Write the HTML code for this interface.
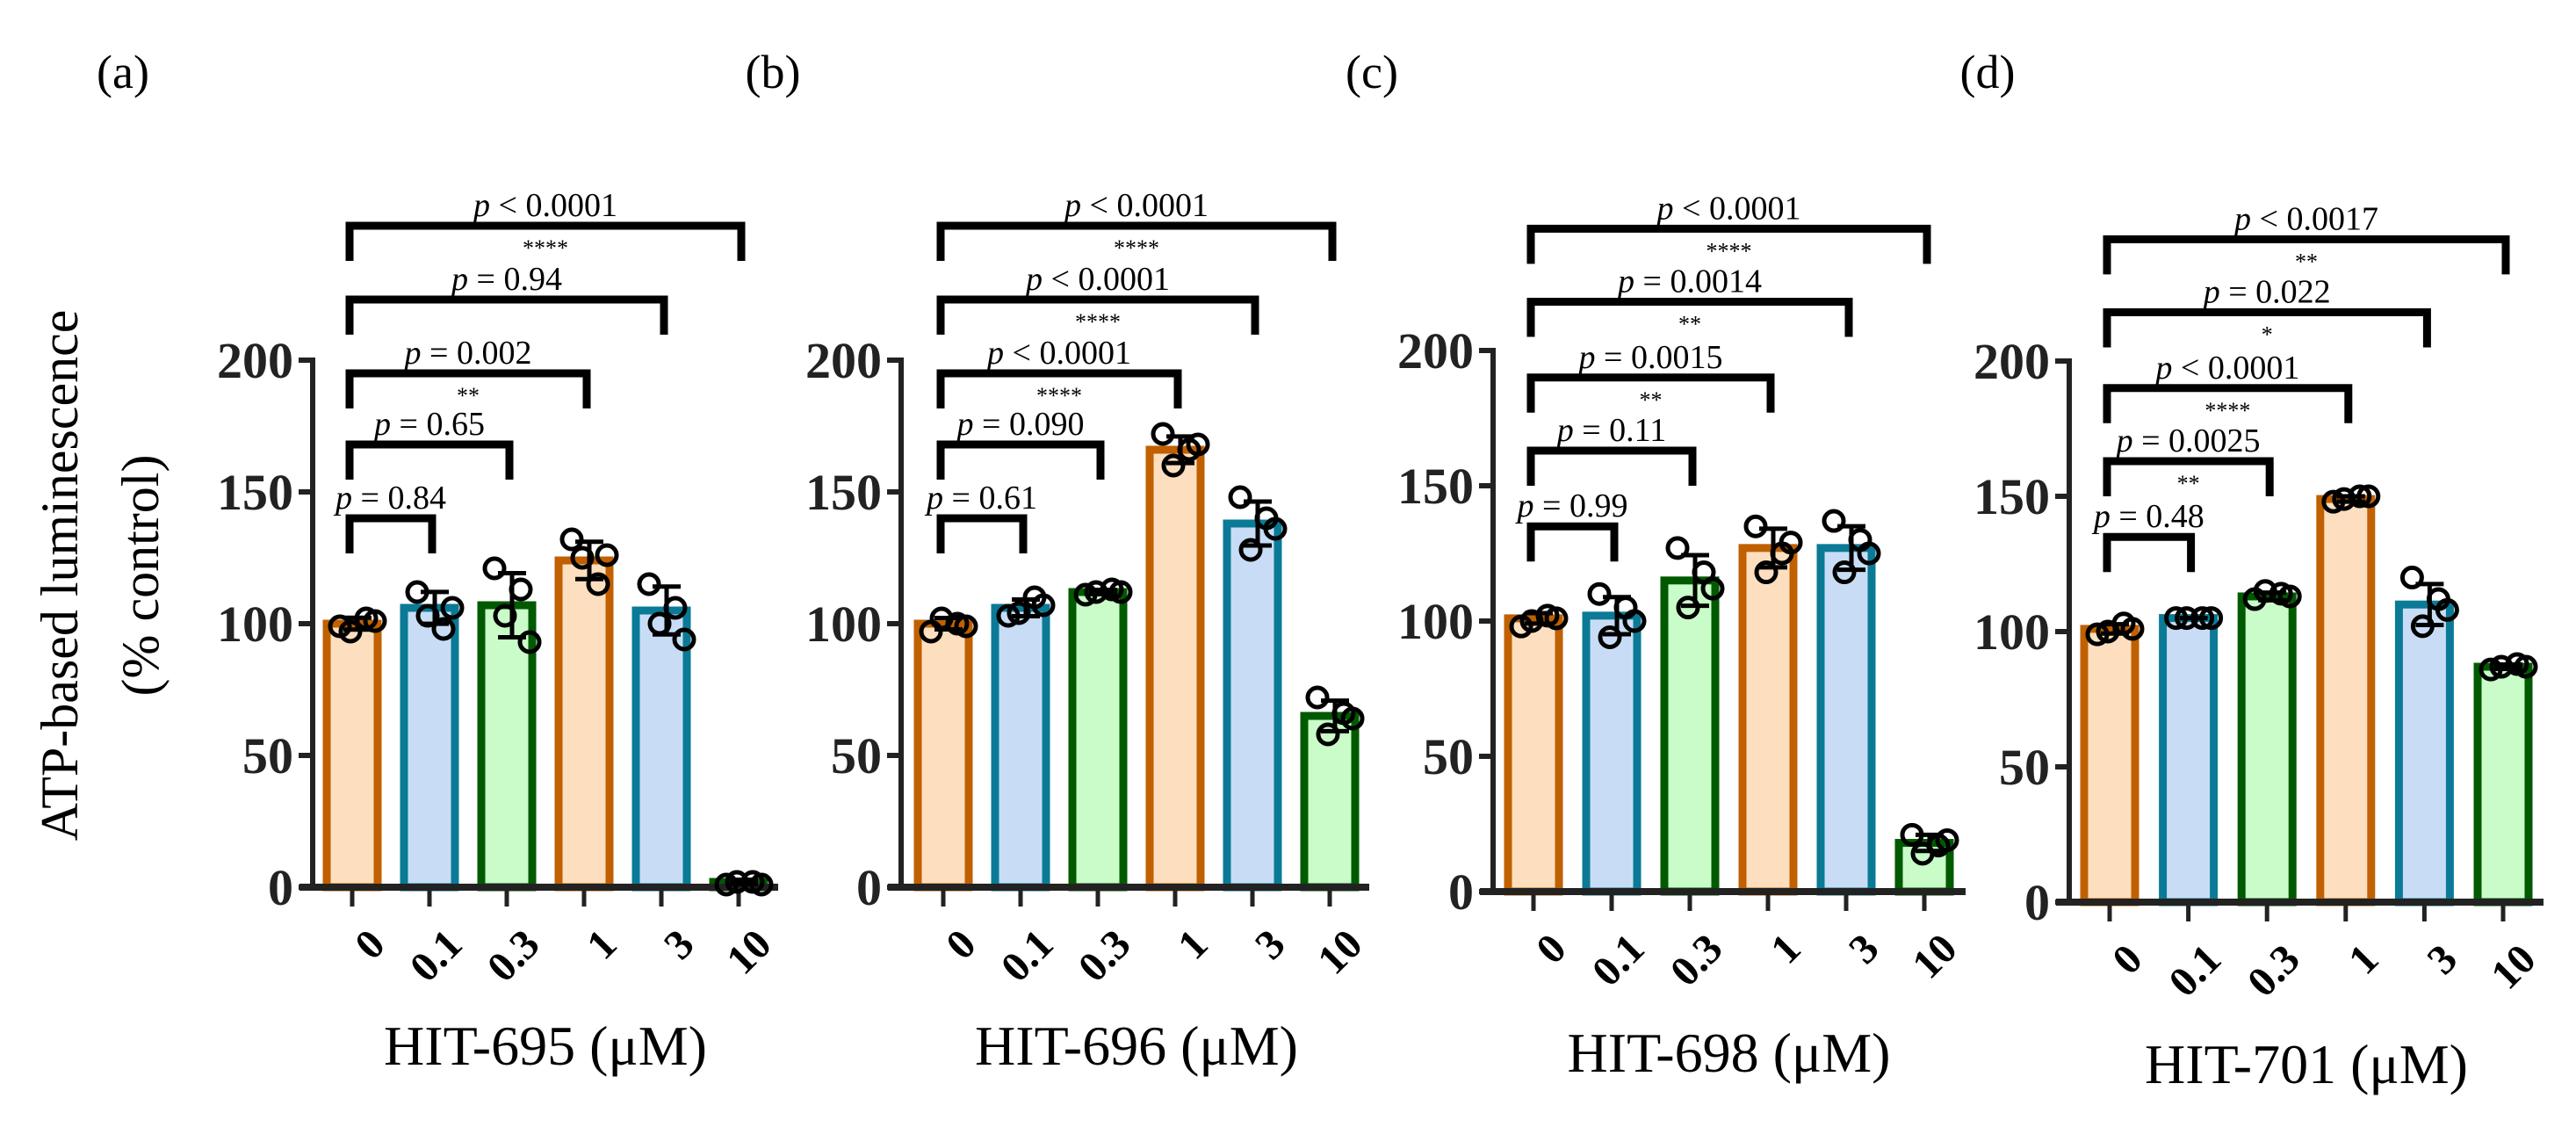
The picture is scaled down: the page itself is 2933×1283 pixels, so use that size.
<!DOCTYPE html>
<html><head><meta charset="utf-8"><style>
html,body{margin:0;padding:0;background:#fff;}
svg{display:block;font-family:"Liberation Serif",serif;}
</style></head><body>
<svg id="chart" width="2933" height="1283" viewBox="0 0 2933 1283" xmlns="http://www.w3.org/2000/svg">
<g>
<text transform="translate(88,655) rotate(-90)" text-anchor="middle" font-size="60">ATP-based luminescence</text>
<text transform="translate(180,655) rotate(-90)" text-anchor="middle" font-size="60">(% control)</text>
</g>
</svg>
<script>
const categories = ["0","0.1","0.3","1","3","10"];
const panelLetters = ["(a)","(b)","(c)","(d)"];
const compounds = ["HIT-695 (μM)","HIT-696 (μM)","HIT-698 (μM)","HIT-701 (μM)"];
const yTicks = [0,50,100,150,200];
const meansA = [100,106,107,124,105,2];
const meansB = [100,106,112,166,138,65];
const meansC = [101,102,115,127,127,18];
const meansD = [101,105,113,149,110,87];
const pointsA = [[99,102,97,101],[112,98,103,106],[121,113,103,93],[132,115,125,126],[115,106,100,94],[1,2,2,1]];
const pointsB = [[97,100,102,99],[103,110,104,107],[111,113,112,112],[172,166,160,168],[148,140,128,136],[72,66,58,64]];
const pointsC = [[98,102,100,101],[110,105,94,100],[127,118,105,112],[135,125,118,129],[137,130,118,125],[21,17,14,19]];
const pointsD = [[99,103,100,101],[105,105,105,105],[112,114,115,113],[148,150,149,150],[120,112,102,108],[86,88,87,87]];
const bracketTargets = [1,2,3,4,5];
const bracketHeightsA = [140,168,195,223,251];
const bracketHeightsB = [140,168,195,223,251];
const bracketHeightsC = [135,163,190,218,245];
const bracketHeightsD = [135,163,190,218,245];
const pLabelsA = ["= 0.84","= 0.65","= 0.002","= 0.94","<  0.0001"];
const pLabelsB = ["= 0.61","= 0.090","<  0.0001","<  0.0001","<  0.0001"];
const pLabelsC = ["= 0.99","= 0.11","=  0.0015","=  0.0014","<  0.0001"];
const pLabelsD = ["= 0.48","=  0.0025","<  0.0001","=  0.022","<  0.0017"];
const starsA = ["","","**","","****"];
const starsB = ["","","****","****","****"];
const starsC = ["","","**","**","****"];
const starsD = ["","**","****","*","**"];

const panels = [
 {ax:356,y0:1010,ppu:3.0,t0:401,step:88,xEnd:886,lx:140,tb:1212,means:meansA,pts:pointsA,bh:bracketHeightsA,pl:pLabelsA,st:starsA},
 {ax:1026,y0:1010,ppu:3.0,t0:1074,step:88,xEnd:1559,lx:880,tb:1212,means:meansB,pts:pointsB,bh:bracketHeightsB,pl:pLabelsB,st:starsB},
 {ax:1700,y0:1015,ppu:3.08,t0:1746,step:89,xEnd:2238,lx:1562,tb:1220,means:meansC,pts:pointsC,bh:bracketHeightsC,pl:pLabelsC,st:starsC},
 {ax:2356,y0:1027,ppu:3.08,t0:2402,step:89.6,xEnd:2896,lx:2263,tb:1233,means:meansD,pts:pointsD,bh:bracketHeightsD,pl:pLabelsD,st:starsD}
];
const fills=["#FDDFC0","#C8DDF5","#C9FCC8"];
const strokes=["#C06000","#0A7A96","#005A00"];
const jitter=[-14,16,-2,26];
const NS="http://www.w3.org/2000/svg";
const svg=document.getElementById("chart");
function mk(tag,attrs,parent,text){const e=document.createElementNS(NS,tag);for(const k in attrs)e.setAttribute(k,attrs[k]);if(text!==undefined)e.textContent=text;(parent||svg).appendChild(e);return e;}

panels.forEach((P,pi)=>{
 const y=v=>P.y0-v*P.ppu;
 const x=i=>P.t0+i*P.step;
 const g=mk("g",{});
 
 
 const lt=mk("text",{x:P.lx,y:100,"text-anchor":"middle","font-size":54},g,panelLetters[pi]);
 
 
 P.means.forEach((m,i)=>{
  const c=i%3;
  const r=mk("rect",{x:x(i)-29,y:y(m),width:58,height:Math.max(P.y0-y(m),0),fill:fills[c],stroke:strokes[c],"stroke-width":9},g);
  
  
 });
 const yl=mk("path",{d:`M${P.ax-16} ${y(200)} H${P.ax} V${P.y0}`,fill:"none",stroke:"#222","stroke-width":6},g);
 
 
 yTicks.forEach(t=>{
  mk("line",{x1:P.ax-16,x2:P.ax,y1:y(t),y2:y(t),stroke:"#222","stroke-width":6},g);
  const tl=mk("text",{x:P.ax-22,y:y(t)+20,"text-anchor":"end","font-size":58,"font-weight":"bold",fill:"#222"},g,String(t));
  
  
 });
 const xl=mk("line",{x1:P.ax-15,x2:P.xEnd,y1:P.y0,y2:P.y0,stroke:"#222","stroke-width":8},g);
 
 
 categories.forEach((c,i)=>{
  mk("line",{x1:x(i),x2:x(i),y1:P.y0,y2:P.y0+22,stroke:"#222","stroke-width":5},g);
  const tl=mk("text",{transform:`translate(${x(i)+16},${P.y0+44}) rotate(-45)`,"text-anchor":"end","font-size":48,"font-weight":"bold",dy:"0.7em"},g,c);
  
  
 });
 const at=mk("text",{x:(P.t0+x(5))/2,y:P.tb,"text-anchor":"middle","font-size":64},g,compounds[pi]);
 
 
 P.pts.forEach((arr,i)=>{
  const m=P.means[i];
  const sd=Math.sqrt(arr.reduce((s,v)=>s+(v-m)*(v-m),0)/(arr.length-1));
  const eb=mk("path",{d:`M${x(i)+6} ${y(m+sd)} V${y(m-sd)} M${x(i)-10} ${y(m+sd)} H${x(i)+22} M${x(i)-10} ${y(m-sd)} H${x(i)+22}`,stroke:"#000","stroke-width":5,fill:"none"},g);
  
  
  arr.forEach((v,k)=>{
   const pt=mk("circle",{cx:x(i)+jitter[k],cy:y(v),r:11,fill:"none",stroke:"#000","stroke-width":5},g);
   
   
  });
 });
 bracketTargets.forEach((t,j)=>{
  const by=y(P.bh[j]);
  const x1=x(0)-3, x2=x(t)+3;
  const br=mk("path",{d:`M${x1} ${by+40} V${by} H${x2} V${by+40}`,fill:"none",stroke:"#000","stroke-width":9},g);
  
  
  const cx=(x1+x2)/2;
  const tx=mk("text",{x:cx,y:by-11,"text-anchor":"middle","font-size":38},g);
  
  
  mk("tspan",{"font-style":"italic"},tx,"p");
  mk("tspan",{},tx," "+P.pl[j]);
  if(P.st[j]){
   const s=mk("text",{x:cx,y:by+34,"text-anchor":"middle","font-size":26},g,P.st[j]);
   
   
  }
 });
});
</script>
</body></html>
